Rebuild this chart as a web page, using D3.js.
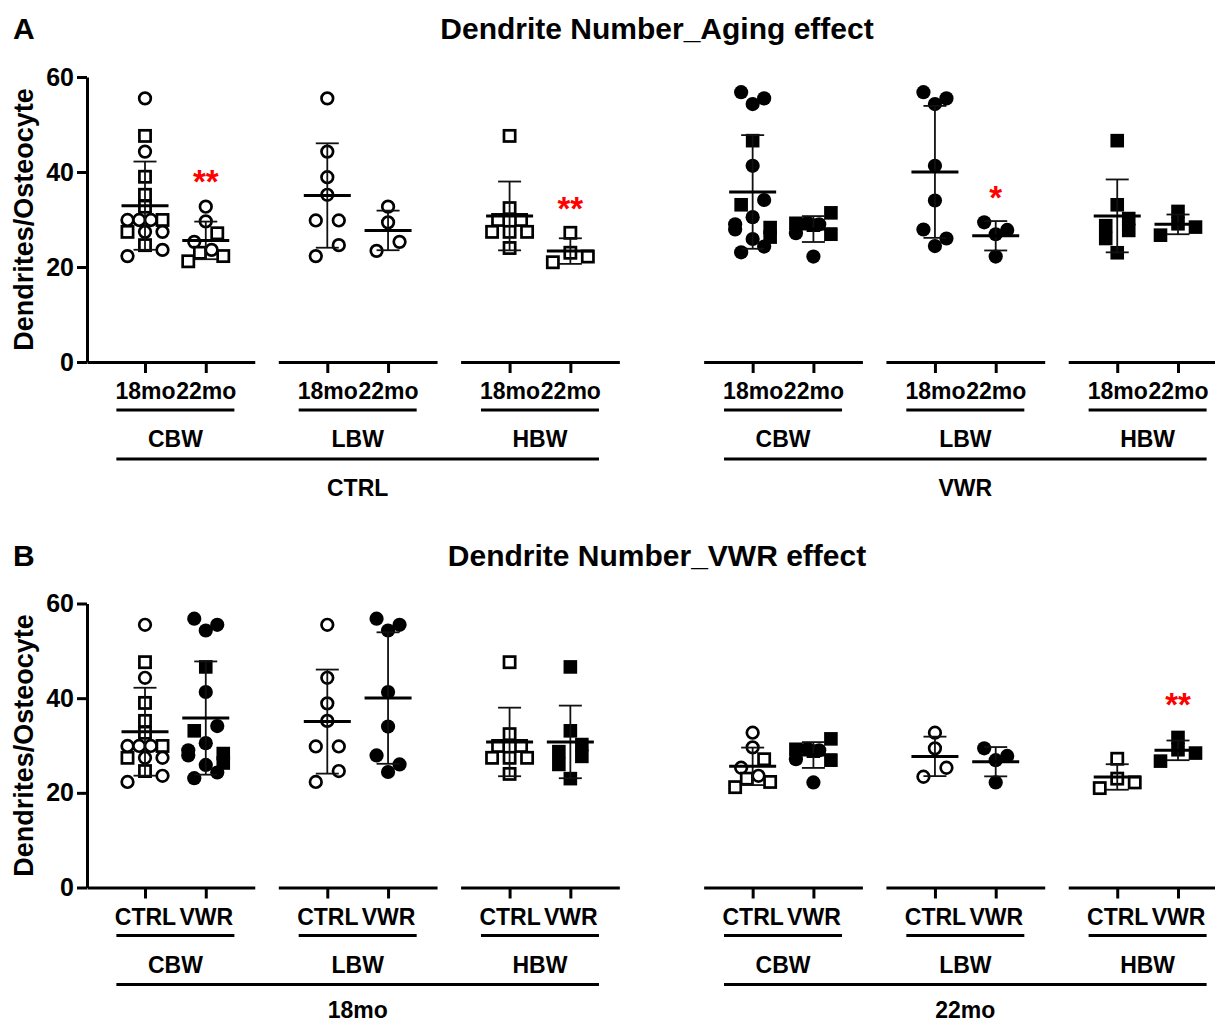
<!DOCTYPE html>
<html>
<head>
<meta charset="utf-8">
<script src="https://cdn.jsdelivr.net/npm/d3@7"></script>
<style>
  body { margin: 0; background: #fff; }
  svg { display: block; font-family: 'Liberation Sans', Arial, sans-serif; }
</style>
</head>
<body>
<div id="chart"></div>
<script>
// dendrites per osteocyte: [value, marker] ('o' circle, 's' square)
const ctrlCBW18 = [[55.5,'o'],[47.6,'s'],[44.3,'o'],[39.0,'s'],[35.2,'s'],[32.7,'s'],[29.9,'o'],[29.9,'o'],[29.9,'o'],[29.9,'s'],[27.4,'s'],[27.4,'o'],[27.4,'o'],[22.3,'o'],[24.6,'s'],[23.6,'o']];
const ctrlCBW22 = [[32.7,'o'],[29.6,'o'],[25.3,'o'],[27.1,'s'],[21.2,'s'],[23.0,'s'],[23.6,'o'],[22.3,'s']];
const ctrlLBW18 = [[55.5,'o'],[44.3,'o'],[38.9,'o'],[35.2,'o'],[29.8,'o'],[29.8,'o'],[22.3,'o'],[24.6,'o']];
const ctrlLBW22 = [[32.7,'o'],[29.4,'o'],[23.4,'o'],[25.3,'o']];
const ctrlHBW18 = [[47.6,'s'],[32.4,'s'],[29.9,'s'],[29.9,'s'],[27.4,'s'],[27.4,'s'],[27.4,'s'],[24.0,'s']];
const ctrlHBW22 = [[27.2,'s'],[21.0,'s'],[23.0,'s'],[22.2,'s']];
const vwrCBW18 = [[56.8,'o'],[55.5,'o'],[54.3,'o'],[46.6,'s'],[41.3,'o'],[33.1,'s'],[34.1,'o'],[29.0,'o'],[30.5,'o'],[28.3,'s'],[27.9,'o'],[25.9,'o'],[26.3,'s'],[23.1,'o'],[24.3,'o']];
const vwrCBW22 = [[29.2,'s'],[29.3,'o'],[29.0,'o'],[31.4,'s'],[27.1,'o'],[28.8,'s'],[26.9,'s'],[22.2,'o']];
const vwrLBW18 = [[56.8,'o'],[55.5,'o'],[54.3,'o'],[41.3,'o'],[34.0,'o'],[27.9,'o'],[26.0,'o'],[24.4,'o']];
const vwrLBW22 = [[29.4,'o'],[27.8,'o'],[26.9,'o'],[22.2,'o']];
const vwrHBW18 = [[46.6,'s'],[33.1,'s'],[28.7,'s'],[30.2,'s'],[26.0,'s'],[27.7,'s'],[23.0,'s']];
const vwrHBW22 = [[31.7,'s'],[26.7,'s'],[29.1,'s'],[28.4,'s']];

const treatments = ['CTRL', 'VWR'];
const ages = ['18mo', '22mo'];
const bodyWeights = ['CBW', 'LBW', 'HBW'];
const yTicks = [0, 20, 40, 60];
const yLabel = 'Dendrites/Osteocyte';

// significance marks: [treatment, body weight, age, text, value where the mark sits]
const sigA = [['CTRL','CBW','22mo','**',39.4], ['CTRL','HBW','22mo','**',33.7], ['VWR','LBW','22mo','*',36.1]];
const sigB = [['VWR','HBW','22mo','**',40.0]];

const lookup = {
  CTRL: { CBW: { '18mo': ctrlCBW18, '22mo': ctrlCBW22 }, LBW: { '18mo': ctrlLBW18, '22mo': ctrlLBW22 }, HBW: { '18mo': ctrlHBW18, '22mo': ctrlHBW22 } },
  VWR:  { CBW: { '18mo': vwrCBW18,  '22mo': vwrCBW22 },  LBW: { '18mo': vwrLBW18,  '22mo': vwrLBW22 },  HBW: { '18mo': vwrHBW18,  '22mo': vwrHBW22 } }
};

const W = 1215, H = 1023;
const FONT = 23;
const svg = d3.select('#chart').append('svg').attr('width', W).attr('height', H);

const panels = [
  { letter: 'A', title: 'Dendrite Number_Aging effect', y60: 77, y0: 362, outer: treatments, inner: ages,
    get: (o, bw, i) => ({ tr: o, age: i }), sig: sigA, bottomDy: 134 },
  { letter: 'B', title: 'Dendrite Number_VWR effect', y60: 603.5, y0: 887.5, outer: ages, inner: treatments,
    get: (o, bw, i) => ({ tr: i, age: o }), sig: sigB, bottomDy: 130 }
];

// GraphPad-like scatter: points close in value share a row and spread sideways
function spread(points) {
  const order = d3.range(points.length).sort((a, b) => points[b][0] - points[a][0] || a - b);
  const rows = [];
  order.forEach(i => {
    const row = rows[rows.length - 1];
    if (row && points[row[0]][0] - points[i][0] <= 2.45) row.push(i);
    else rows.push([i]);
  });
  const off = new Array(points.length).fill(0);
  rows.forEach(row => {
    row.sort((a, b) => a - b);
    const n = row.length;
    const step = n > 1 ? Math.min(23, 35 / (n - 1)) : 0;
    row.forEach((idx, k) => { off[idx] = (k - (n - 1) / 2) * step; });
  });
  return off;
}

panels.forEach(p => {
  const g = svg.append('g');
  const y = d3.scaleLinear().domain([0, 60]).range([p.y0, p.y60]);

  // columns with gaps between body-weight groups and outer sections
  const cols = [];
  const groups = [];
  let slot = 0;
  p.outer.forEach(o => {
    bodyWeights.forEach(bw => {
      groups.push({ o, bw, s0: slot });
      p.inner.forEach((inn, k) => {
        const key = p.get(o, bw, inn);
        cols.push({ slot: slot + k, o, bw, inn, tr: key.tr, age: key.age, data: lookup[key.tr][bw][key.age] });
      });
      slot += 3;
    });
    slot += 1;
  });
  const x = d3.scaleLinear().domain([0, d3.max(cols, c => c.slot)]).range([145, 1178]);

  // titles
  g.append('text').attr('x', 13).attr('y', p.y60 - 38).attr('font-size', 30).attr('font-weight', 'bold').text(p.letter);
  g.append('text').attr('x', 657).attr('y', p.y60 - 38).attr('text-anchor', 'middle')
    .attr('font-size', 30).attr('font-weight', 'bold').text(p.title);

  // y axis
  const yAxis = g.append('g').attr('transform', 'translate(87,0)')
    .call(d3.axisLeft(y).tickValues(yTicks).tickSize(10).tickPadding(3).tickSizeOuter(0));
  yAxis.select('.domain').attr('stroke', '#000').attr('stroke-width', 3);
  yAxis.selectAll('.tick line').attr('stroke', '#000').attr('stroke-width', 3);
  yAxis.selectAll('.tick text').attr('fill', '#000').attr('font-size', 25).attr('font-weight', 'bold')
    .attr('font-family', 'Liberation Sans, Arial, sans-serif');

  g.append('text')
    .attr('transform', `translate(33,${(p.y0 + p.y60) / 2}) rotate(-90)`)
    .attr('text-anchor', 'middle').attr('font-size', 27).attr('font-weight', 'bold').text(yLabel);

  // broken x axis, one piece per group
  groups.forEach((gr, gi) => {
    const left = gi === 0 ? 87 : x(gr.s0) - 49;
    const right = Math.min(W, x(gr.s0 + 1) + 49);
    const seg = d3.scaleLinear().domain([x.invert(left), x.invert(right)]).range([left, right]);
    const ax = g.append('g').attr('transform', `translate(0,${p.y0})`)
      .call(d3.axisBottom(seg).tickValues([gr.s0, gr.s0 + 1]).tickSize(11).tickSizeOuter(0)
        .tickPadding(10).tickFormat(d => p.inner[d - gr.s0]));
    ax.select('.domain').attr('stroke', '#000').attr('stroke-width', 3);
    ax.selectAll('.tick line').attr('stroke', '#000').attr('stroke-width', 3);
    ax.selectAll('.tick text').attr('fill', '#000').attr('font-size', FONT).attr('font-weight', 'bold')
      .attr('font-family', 'Liberation Sans, Arial, sans-serif');

    const cx = (x(gr.s0) + x(gr.s0 + 1)) / 2;
    g.append('line').attr('x1', cx - 59).attr('x2', cx + 59).attr('y1', p.y0 + 48).attr('y2', p.y0 + 48)
      .attr('stroke', '#000').attr('stroke-width', 3);
    g.append('text').attr('x', cx).attr('y', p.y0 + 85).attr('text-anchor', 'middle')
      .attr('font-size', FONT).attr('font-weight', 'bold').text(gr.bw);
  });

  p.outer.forEach(o => {
    const gs = groups.filter(gr => gr.o === o);
    const l = x(gs[0].s0) + (x(1) - x(0)) / 2 - 59;
    const r = x(gs[gs.length - 1].s0) + (x(1) - x(0)) / 2 + 59;
    g.append('line').attr('x1', l).attr('x2', r).attr('y1', p.y0 + 97).attr('y2', p.y0 + 97)
      .attr('stroke', '#000').attr('stroke-width', 3);
    g.append('text').attr('x', (l + r) / 2).attr('y', p.y0 + p.bottomDy).attr('text-anchor', 'middle')
      .attr('font-size', FONT).attr('font-weight', 'bold').text(o);
  });

  // points
  cols.forEach(c => {
    const off = spread(c.data);
    const filled = c.tr === 'VWR';
    const cg = g.append('g');
    c.data.forEach((d, i) => {
      const px = x(c.slot) + off[i], py = y(d[0]);
      if (d[1] === 'o') {
        cg.append('circle').attr('cx', px).attr('cy', py).attr('r', filled ? 7.1 : 5.8)
          .attr('fill', filled ? '#000' : '#fff').attr('stroke', filled ? 'none' : '#000').attr('stroke-width', 2.7);
      } else {
        const s = filled ? 13.6 : 11.2;
        cg.append('rect').attr('x', px - s / 2).attr('y', py - s / 2).attr('width', s).attr('height', s)
          .attr('fill', filled ? '#000' : '#fff').attr('stroke', filled ? 'none' : '#000').attr('stroke-width', 2.7);
      }
    });

    // mean and SD
    const vals = c.data.map(d => d[0]);
    const m = d3.mean(vals), sd = d3.deviation(vals);
    const xc = x(c.slot);
    cg.append('line').attr('x1', xc).attr('x2', xc).attr('y1', y(m - sd)).attr('y2', y(m + sd))
      .attr('stroke', '#111').attr('stroke-width', 1.8);
    [m - sd, m + sd].forEach(v => cg.append('line').attr('x1', xc - 11.5).attr('x2', xc + 11.5)
      .attr('y1', y(v)).attr('y2', y(v)).attr('stroke', '#111').attr('stroke-width', 1.8));
    cg.append('line').attr('x1', xc - 23.5).attr('x2', xc + 23.5).attr('y1', y(m)).attr('y2', y(m))
      .attr('stroke', '#000').attr('stroke-width', 3);
  });

  // significance
  p.sig.forEach(([tr, bw, age, txt, v]) => {
    const c = cols.find(c => c.tr === tr && c.bw === bw && c.age === age);
    g.append('text').attr('x', x(c.slot)).attr('y', y(v) + 18).attr('text-anchor', 'middle')
      .attr('font-size', 33).attr('font-weight', 'bold').attr('fill', '#ff0000').text(txt);
  });
});
</script>
</body>
</html>
